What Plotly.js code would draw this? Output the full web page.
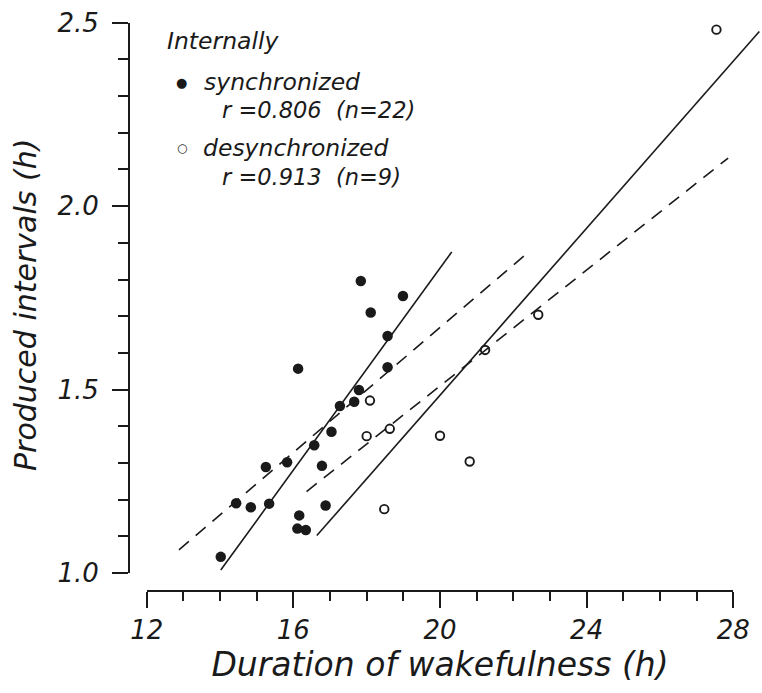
<!DOCTYPE html>
<html><head><meta charset="utf-8">
<script src="https://cdn.plot.ly/plotly-3.0.1.min.js"></script>
<style>html,body{margin:0;padding:0;background:#fff}#chart{width:762px;height:693px}</style>
</head><body><div id="chart"></div>
<script>
// Internally synchronized (filled circles), n = 22
const syncX = [17.84,18.99,18.11,18.57,16.13,18.57,17.79,17.66,17.27,17.04,16.57,15.83,15.25,16.78,14.44,14.84,15.34,16.88,16.16,16.11,16.34,14.02];
const syncY = [1.796,1.755,1.710,1.646,1.557,1.561,1.499,1.467,1.455,1.385,1.348,1.302,1.289,1.292,1.190,1.179,1.189,1.184,1.157,1.121,1.117,1.044];
// Internally desynchronized (open circles), n = 9
const desyncX = [18.09,18.63,18.00,20.00,20.81,18.48,21.23,22.68,27.54];
const desyncY = [1.470,1.393,1.373,1.374,1.304,1.174,1.608,1.704,2.481];
// Fitted lines (end points)
const solidAX = [14.02,20.32], solidAY = [1.008,1.875];
const solidBX = [16.64,28.71], solidBY = [1.102,2.476];
const dashCX = [12.88,22.30],  dashCY = [1.063,1.865];
const dashDX = [16.36,27.86],  dashDY = [1.222,2.131];
// Ticks
const xTickVals = [12,16,20,24,28];
const yTickVals = [1.0,1.5,2.0,2.5];
const xTickText = ['12','16','20','24','28'];
const yTickText = ['1.0','1.5','2.0','2.5'];
// Texts
const legendTitle = 'Internally';
const syncLabel = 'synchronized';
const syncStat = 'r\u00a0=0.806\u00a0\u00a0(n=22)';
const desyncLabel = 'desynchronized';
const desyncStat = 'r\u00a0=0.913\u00a0\u00a0(n=9)';
const xTitle = 'Duration of wakefulness (h)';
const yTitle = 'Produced intervals (h)';

const ink = '#1a1a1a';
const lineStyle = {color: ink, width: 1.6};
const dashStyle = {color: ink, width: 1.6, dash: '13px,9px'};

const traces = [
  {type:'scatter', mode:'lines', x: solidAX, y: solidAY, line: lineStyle, hoverinfo:'skip'},
  {type:'scatter', mode:'lines', x: solidBX, y: solidBY, line: lineStyle, hoverinfo:'skip'},
  {type:'scatter', mode:'lines', x: dashCX, y: dashCY, line: dashStyle, hoverinfo:'skip'},
  {type:'scatter', mode:'lines', x: dashDX, y: dashDY, line: dashStyle, hoverinfo:'skip'},
  {type:'scatter', mode:'markers', x: syncX, y: syncY, cliponaxis:false,
   marker:{symbol:'circle', size:10.5, color: ink, line:{width:0}}},
  {type:'scatter', mode:'markers', x: desyncX, y: desyncY, cliponaxis:false,
   marker:{symbol:'circle-open', size:8.5, color: ink, line:{width:1.9, color: ink}}},
  {type:'scatter', mode:'markers', x: [], y: [], xaxis:'x2', yaxis:'y2', hoverinfo:'skip'}
];

const tickCommon = {
  showline:true, linewidth:2, linecolor: ink, showgrid:false, zeroline:false,
  ticks:'outside', ticklen:16, tickwidth:2, tickcolor: ink, fixedrange:true,
  tickfont:{size:26, color: ink}
};

const layout = {
  width:762, height:693,
  margin:{l:129, r:0, t:0, b:102, pad:0},
  paper_bgcolor:'#fff', plot_bgcolor:'rgba(0,0,0,0)',
  font:{family:'DejaVu Sans, sans-serif', style:'italic', color: ink},
  showlegend:false,
  xaxis:{domain:[0.02796,1], range:[12,28.783], visible:false, anchor:'y', fixedrange:true},
  yaxis:{domain:[0.03046,0.96159], range:[1,2.5], visible:false, anchor:'x', fixedrange:true},
  xaxis2: Object.assign({}, tickCommon, {
    domain:[0.02796,0.95466], range:[12,28], anchor:'free', position:0,
    tickmode:'array', tickvals: xTickVals, ticktext: xTickText,
    minor:{tickmode:'linear', tick0:12, dtick:1, ticks:'outside', ticklen:9, tickwidth:2, tickcolor: ink, showgrid:false},
    title:{text: xTitle, font:{size:33, color: ink}, standoff:3}
  }),
  yaxis2: Object.assign({}, tickCommon, {
    domain:[0.03046,0.96159], range:[1,2.5], anchor:'free', position:0,
    tickmode:'array', tickvals: yTickVals, ticktext: yTickText, ticklabelstandoff:8,
    minor:{tickmode:'linear', tick0:1, dtick:0.1, ticks:'outside', ticklen:10, tickwidth:2, tickcolor: ink, showgrid:false}
  }),
  annotations:[
    {xref:'paper', yref:'paper', x:-0.1627, y:0.484, xanchor:'center', yanchor:'middle', textangle:-90, showarrow:false, text: yTitle, font:{size:30}},
    {xref:'x', yref:'y', x:12.50, y:2.451, xanchor:'left', yanchor:'middle', showarrow:false, text: legendTitle, font:{size:23.5}},
    {xref:'x', yref:'y', x:12.96, y:2.336, xanchor:'center', yanchor:'middle', showarrow:false, text:'\u25CF', font:{size:13, style:'normal'}},
    {xref:'x', yref:'y', x:13.51, y:2.339, xanchor:'left', yanchor:'middle', showarrow:false, text: syncLabel, font:{size:23.5}},
    {xref:'x', yref:'y', x:14.00, y:2.263, xanchor:'left', yanchor:'middle', showarrow:false, text: syncStat, font:{size:22.5}},
    {xref:'x', yref:'y', x:12.96, y:2.159, xanchor:'center', yanchor:'middle', showarrow:false, text:'\u25CB', font:{size:12, style:'normal'}},
    {xref:'x', yref:'y', x:13.48, y:2.159, xanchor:'left', yanchor:'middle', showarrow:false, text: desyncLabel, font:{size:23.5}},
    {xref:'x', yref:'y', x:14.00, y:2.080, xanchor:'left', yanchor:'middle', showarrow:false, text: desyncStat, font:{size:22.5}}
  ]
};

Plotly.newPlot('chart', traces, layout, {displayModeBar:false, staticPlot:true});
</script></body></html>
